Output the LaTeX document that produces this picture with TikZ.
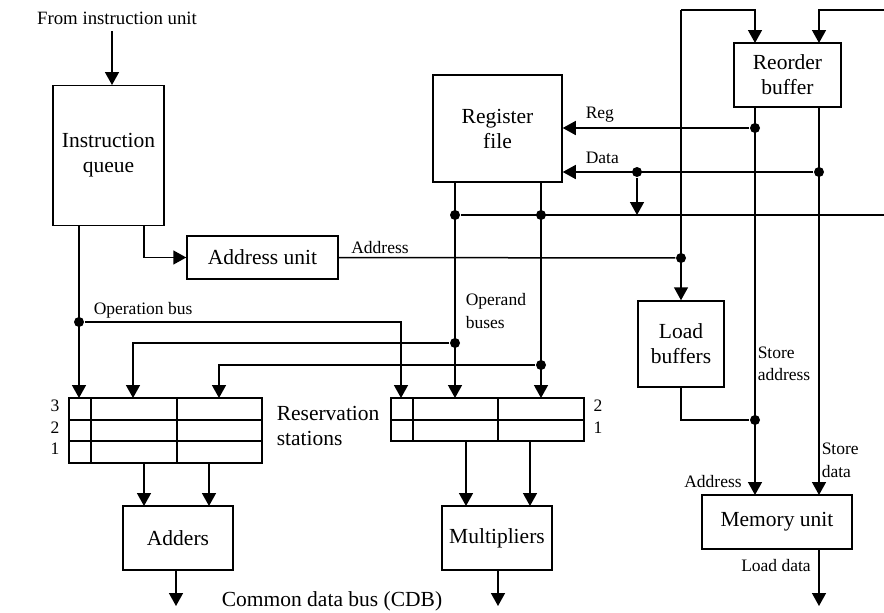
\documentclass[tikz,border=0pt]{standalone}
\usepackage{fontspec}
\setmainfont{Liberation Serif}
\usetikzlibrary{arrows.meta}
\begin{document}
\begin{tikzpicture}[x=1pt,y=-1pt,
  every path/.style={line width=1.5pt},
  arr/.style={-{Triangle[width=14pt,length=13pt]}},
  box/.style={draw, line width=1.5pt, align=center, inner sep=0pt,
    font=\fontsize{21.5}{25}\selectfont},
  big/.style={inner sep=0pt, align=center, font=\fontsize{21.5}{25}\selectfont},
  lbl/.style={inner sep=0pt, align=left, font=\fontsize{17.5}{22.5}\selectfont},
  dot/.style={circle, fill=black, inner sep=0pt, minimum size=10pt}]
\useasboundingbox (0,0) rectangle (884,613);

% functional units
\node[box, minimum width=111, minimum height=140] (iq) at (108.5,155.5) {Instruction\\queue};
\node[box, minimum width=151, minimum height=43] (au) at (262.5,257.5) {Address unit};
\node[box, minimum width=129, minimum height=107] (rf) at (497.5,128.5) {Register\\file};
\node[box, minimum width=107, minimum height=64] (rob) at (787.5,75) {Reorder\\buffer};
\node[box, minimum width=86, minimum height=86] (lb) at (681,344) {Load\\buffers};
\node[box, minimum width=150, minimum height=54] (mu) at (777,522) {Memory unit};
\node[box, minimum width=110, minimum height=64] (add) at (178,538) {Adders};
\node[box, minimum width=110, minimum height=64] (mul) at (497,538) {Multipliers};

% reservation stations
\node[draw, line width=1.5pt, minimum width=193, minimum height=65, inner sep=0pt] (rsa) at (165.5,430.5) {};
\draw (69,420) -- (262,420) (69,441) -- (262,441) (91,398) -- (91,463) (177,398) -- (177,463);
\node[draw, line width=1.5pt, minimum width=193, minimum height=43, inner sep=0pt] (rsm) at (487.5,419.5) {};
\draw (391,420) -- (584,420) (413,398) -- (413,441) (498,398) -- (498,441);
\node[lbl] (n3) at (55,406) {3};
\node[lbl] (n2) at (55,428) {2};
\node[lbl] (n1) at (55,449) {1};
\node[lbl] (m2) at (598,406) {2};
\node[lbl] (m1) at (598,428) {1};
\node[big, anchor=west, align=left] (rslbl) at (276,426) {Reservation\\stations};

% junction points
\node[dot] (dop) at (79,322) {};
\node[dot] (dadr) at (681,258) {};
\node[dot] (dreg) at (755,128) {};
\node[dot] (dst) at (755,420) {};
\node[dot] (ddata) at (819,172) {};
\node[dot] (ddata2) at (637,172) {};
\node[dot] (db1) at (455,215) {};
\node[dot] (db2) at (541,215) {};
\node[dot] (dop1) at (455,343) {};
\node[dot] (dop2) at (541,365) {};

% instruction path
\node[inner sep=0pt, font=\fontsize{18.8}{22}\selectfont] (fiu) at (117,18) {From instruction unit};
\draw[arr] (112,31) -- (112,85);
\draw[arr] (144,226) |- (au.west);
\draw (au.east) -- (dadr);
\node[lbl] (adrlbl) at (380,248) {Address};
\draw[arr] (79,226) -- (79,398);
\draw[arr] (dop) -| (401,398);
\node[lbl, anchor=west] (oplbl) at (93,310) {Operation bus};

% address to reorder buffer and load buffers
\draw[arr] (lb.north |- 0,10) -| (755,43);
\draw[arr] (lb.north |- 0,10) -- (lb.north);
\draw[arr] (884,10) -| (819,43);

% reorder buffer outputs
\draw[arr] (755,107) -- (755,495);
\draw[arr] (819,107) -- (819,495);
\draw[arr] (dreg) -- (rf.east |- dreg);
\node[lbl, anchor=west] (reglbl) at (585,115) {Reg};
\draw[arr] (ddata) -- (rf.east |- ddata);
\node[lbl, anchor=west] (datalbl) at (585,158) {Data};
\draw[arr] (ddata2) -- (637,215);
\draw (lb.south) |- (dst);
\node[lbl, anchor=west] (salbl) at (757,364) {Store\\address};
\node[lbl, anchor=west] (sdlbl) at (821,460.5) {Store\\data};
\node[lbl] (malbl) at (713,482) {Address};

% operand buses
\draw (db1) -- (884,215);
\draw[arr] (455,182) -- (455,398);
\draw[arr] (541,182) -- (541,398);
\draw[arr] (dop1) -| (133,398);
\draw[arr] (dop2) -| (219,398);
\node[lbl, anchor=west] (obl) at (465,311) {Operand\\buses};

% execution units and common data bus
\draw[arr] (144,463) -- (144,506);
\draw[arr] (209,463) -- (209,506);
\draw[arr] (466,441) -- (466,506);
\draw[arr] (530,441) -- (530,506);
\draw[arr] (176,570) -- (176,606);
\draw[arr] (498,570) -- (498,606);
\draw[arr] (819,549) -- (819,606);
\node[lbl] (ldlbl) at (776,566) {Load data};
\node[big] (cdb) at (332,601) {Common data bus (CDB)};
\end{tikzpicture}
\end{document}
